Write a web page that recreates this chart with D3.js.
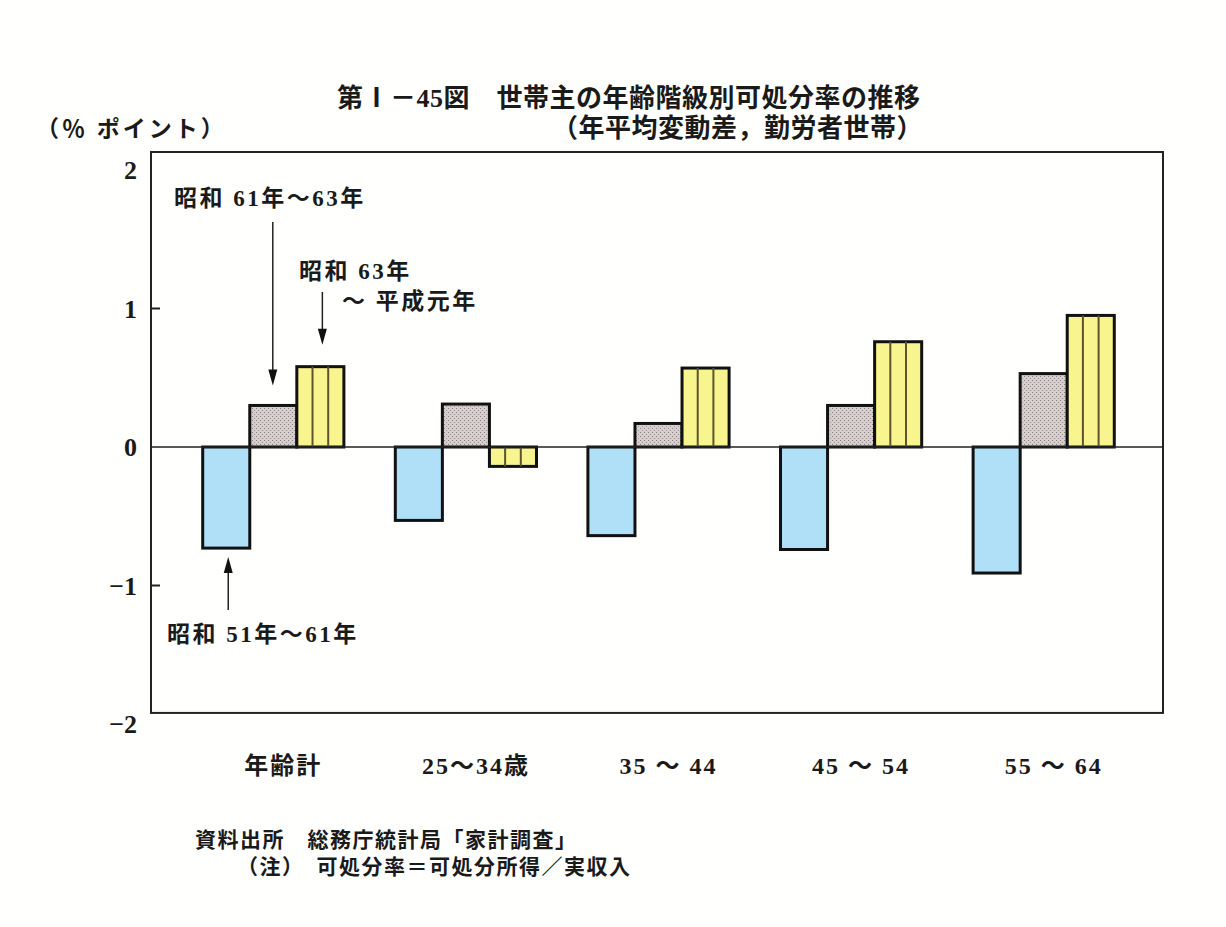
<!DOCTYPE html>
<html>
<head>
<meta charset="utf-8">
<script src="https://cdn.jsdelivr.net/npm/d3@7/dist/d3.min.js"></script>
<style>
  body { margin: 0; background: #fffffd; }
  text { font-family: "Liberation Serif", "Noto Sans CJK JP", serif; fill: #1a1a1a; font-weight: bold; }
</style>
</head>
<body>
<script>
// data
var categories = ["年齢計", "25～34歳", "35 ～ 44", "45 ～ 54", "55 ～ 64"];
var seriesNames = ["昭和51年～61年", "昭和61年～63年", "昭和63年～平成元年"];
var s1 = [-0.73, -0.53, -0.64, -0.74, -0.91];   // 昭和51年～61年
var s2 = [0.30, 0.31, 0.17, 0.30, 0.53];        // 昭和61年～63年
var s3 = [0.58, -0.14, 0.57, 0.76, 0.95];       // 昭和63年～平成元年
var yTicks = [2, 1, 0, -1, -2];

var W = 1226, H = 927;
var svg = d3.select("body").append("svg")
  .attr("width", W).attr("height", H);

var defs = svg.append("defs");
var pat = defs.append("pattern").attr("id", "stip")
  .attr("width", 4).attr("height", 4).attr("patternUnits", "userSpaceOnUse");
pat.append("rect").attr("width", 4).attr("height", 4).attr("fill", "#d4cece");
pat.append("rect").attr("x", 0).attr("y", 0).attr("width", 1).attr("height", 1).attr("fill", "#8a8080");
pat.append("rect").attr("x", 2).attr("y", 2).attr("width", 1).attr("height", 1).attr("fill", "#a09696");

var y = d3.scaleLinear().domain([-2, 2]).range([724, 170]);
var x0 = d3.scaleBand().domain(categories).range([177, 1140])
  .paddingInner(0.267).paddingOuter(0.1335);
var x1 = d3.scaleBand().domain([0, 1, 2]).range([0, x0.bandwidth()]);

var frameL = 151, frameR = 1163;

// frame
svg.append("rect")
  .attr("x", frameL).attr("y", y(2.13))
  .attr("width", frameR - frameL).attr("height", y(-1.92) - y(2.13))
  .attr("fill", "none").attr("stroke", "#222").attr("stroke-width", 2);

// inward ticks
svg.selectAll(".tk").data([1, -1]).enter().append("line")
  .attr("x1", frameL).attr("x2", frameL + 9)
  .attr("y1", function(d) { return y(d); }).attr("y2", function(d) { return y(d); })
  .attr("stroke", "#222").attr("stroke-width", 2);

// tick labels
svg.selectAll(".yl").data(yTicks).enter().append("text")
  .attr("x", 137).attr("y", function(d) { return y(d); })
  .attr("dy", "0.35em").attr("text-anchor", "end")
  .style("font-size", "26px")
  .text(function(d) { return d < 0 ? "−" + Math.abs(d) : d; });

// bars
var series = [s1, s2, s3];
var fills = ["#b0e0f8", "url(#stip)", "#f8f58e"];
series.forEach(function(vals, si) {
  var g = svg.append("g");
  g.selectAll("rect").data(vals).enter().append("rect")
    .attr("x", function(d, i) { return x0(categories[i]) + x1(si); })
    .attr("width", x1.bandwidth())
    .attr("y", function(d) { return y(Math.max(0, d)); })
    .attr("height", function(d) { return Math.abs(y(d) - y(0)); })
    .attr("fill", fills[si])
    .attr("stroke", "#111").attr("stroke-width", 3);
  if (si === 2) {
    // vertical stripes
    vals.forEach(function(d, i) {
      [1, 2].forEach(function(k) {
        var xx = x0(categories[i]) + x1(si) + x1.bandwidth() * k / 3;
        g.append("line")
          .attr("x1", xx).attr("x2", xx)
          .attr("y1", y(Math.max(0, d))).attr("y2", y(Math.min(0, d)))
          .attr("stroke", "#5a5530").attr("stroke-width", 2);
      });
    });
  }
});

// zero line
svg.append("line")
  .attr("x1", frameL).attr("x2", frameR)
  .attr("y1", y(0)).attr("y2", y(0))
  .attr("stroke", "#222").attr("stroke-width", 1.5);

// category labels
svg.selectAll(".cat").data(categories).enter().append("text")
  .attr("x", function(d) { return x0(d) + x0.bandwidth() / 2 + 10; })
  .attr("y", 766).attr("dy", "0.35em").attr("text-anchor", "middle")
  .style("font-size", "24px").style("letter-spacing", "2px")
  .text(function(d) { return d; });

// titles
svg.append("text").attr("x", 337).attr("y", 107)
  .style("font-size", "26px").style("letter-spacing", "0.5px")
  .text("第Ⅰ－45図　世帯主の年齢階級別可処分率の推移");
svg.append("text").attr("x", 552).attr("y", 137)
  .style("font-size", "26px").style("letter-spacing", "0.5px")
  .text("（年平均変動差，勤労者世帯）");
svg.append("text").attr("x", 36).attr("y", 137)
  .style("font-size", "23px").style("letter-spacing", "3px")
  .text("（％ ポイント）");

// annotations
var ann = svg.append("g").style("font-size", "23px").style("letter-spacing", "2.5px");
ann.append("text").attr("x", 174).attr("y", 206).text("昭和 61年～63年");
ann.append("text").attr("x", 299).attr("y", 279).text("昭和 63年");
ann.append("text").attr("x", 342).attr("y", 309).text("～ 平成元年");
ann.append("text").attr("x", 167).attr("y", 642).text("昭和 51年～61年");

function arrow(xx, yFrom, yTo) {
  var dir = yTo > yFrom ? 1 : -1;
  svg.append("line").attr("x1", xx).attr("x2", xx)
    .attr("y1", yFrom).attr("y2", yTo - dir * 10)
    .attr("stroke", "#222").attr("stroke-width", 1.5);
  svg.append("path")
    .attr("d", "M" + (xx - 4.5) + "," + (yTo - dir * 16) + "L" + (xx + 4.5) + "," + (yTo - dir * 16) + "L" + xx + "," + yTo + "Z")
    .attr("fill", "#111");
}
var g1 = x0(categories[0]);
arrow(g1 + x1(1) + x1.bandwidth() / 2 - 0.5, 222, y(s2[0]) - 20);
arrow(g1 + x1(2) + x1.bandwidth() / 2 + 2, 292, y(s3[0]) - 22);
arrow(g1 + x1(0) + x1.bandwidth() / 2 + 2, 610, y(s1[0]) + 9);

// footnotes
var fn = svg.append("g").style("font-size", "21px").style("letter-spacing", "1.5px");
fn.append("text").attr("x", 195).attr("y", 847).text("資料出所　総務庁統計局「家計調査」");
fn.append("text").attr("x", 237).attr("y", 874).text("（注）　可処分率＝可処分所得／実収入");
</script>
</body>
</html>
